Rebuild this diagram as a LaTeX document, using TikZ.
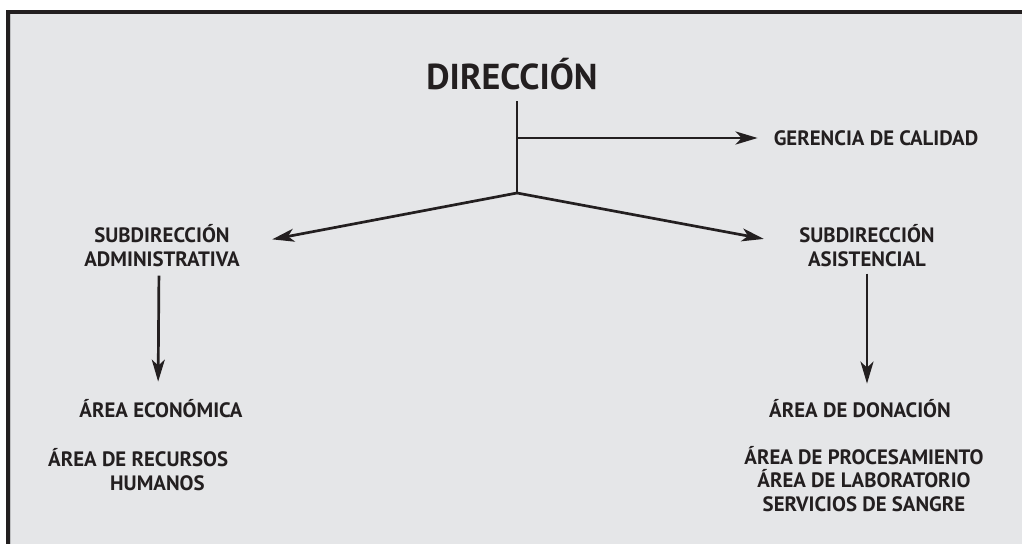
\documentclass[tikz,border=0pt]{standalone}
\usepackage{fontspec}
\setmainfont{PT Sans}
\usetikzlibrary{arrows.meta,calc}
\definecolor{bgc}{HTML}{E5E6E8}
\definecolor{ink}{HTML}{231F20}
\definecolor{edgegrey}{HTML}{BFC0C2}
\tikzset{
  lbl/.style={inner sep=0pt, text=ink, font=\fontsize{20.8}{23.5}\selectfont\bfseries, align=center},
  conn/.style={draw=ink, line width=2.7pt},
  arr/.style={conn, -{Stealth[length=22pt,width=13pt,inset=6pt]}}
}
\begin{document}
\begin{tikzpicture}[x=1pt,y=-1pt]
\useasboundingbox (0,0) rectangle (1022,544);
\fill[white] (0,0) rectangle (1022,544);
\fill[bgc] (10,14) rectangle (1022,544);
\fill[ink] (6,10) rectangle (1022,14);
\fill[ink] (6,10) rectangle (10,544);
\fill[edgegrey] (10,14) rectangle (11.2,544);

\node[lbl, font=\fontsize{36}{40}\selectfont\bfseries] (dir) at (512,74) {DIRECCIÓN};
\node[lbl] (ger) at (876,138) {GERENCIA DE CALIDAD};
\node[lbl] (sa) at (162,245.5) {SUBDIRECCIÓN\\ADMINISTRATIVA};
\node[lbl] (sas) at (867,245.5) {SUBDIRECCIÓN\\ASISTENCIAL};
\node[lbl] (ae) at (161,409) {ÁREA ECONÓMICA};
\node[lbl, align=left, anchor=west] (arh) at (48,469.5) {ÁREA DE RECURSOS\\\hspace*{62pt}HUMANOS};
\node[lbl] (ad) at (860,409) {ÁREA DE DONACIÓN};
\node[lbl] (ap) at (864,479) {ÁREA DE PROCESAMIENTO\\ÁREA DE LABORATORIO\\SERVICIOS DE SANGRE};

\coordinate (J) at (517,193);
\coordinate (B) at (517,138);

\draw[conn, shorten <=11pt] (dir.south -| J) -- (J);
\draw[arr, shorten >=16pt] (B) -- (ger.west);
\draw[arr, shorten >=33pt] (J) -- (sa.east);
\draw[arr, shorten >=36pt] (J) -- (sas.west);
\draw[arr, shorten <=9pt, shorten >=18pt] ($(sa.south)+(-3,0)$) -- ($(ae.north)+(-3,0)$);
\draw[arr, shorten <=7pt, shorten >=16pt] (sas.south) -- (sas.south |- ad.north);
\end{tikzpicture}
\end{document}
